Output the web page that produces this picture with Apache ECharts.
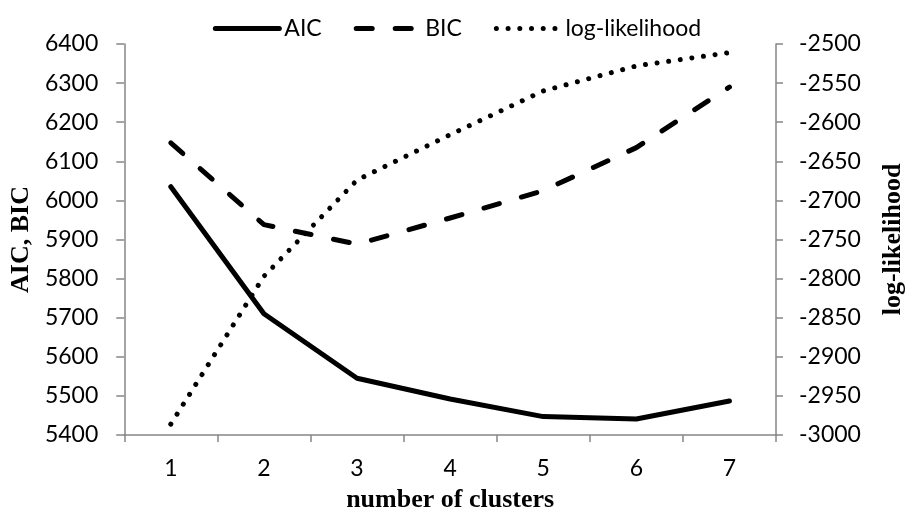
<!DOCTYPE html>
<html>
<head>
<meta charset="utf-8">
<script src="https://cdn.jsdelivr.net/npm/echarts@6/dist/echarts.min.js"></script>
<style>
html,body{margin:0;padding:0;background:#fff;}
#chart{width:914px;height:518px;}
</style>
</head>
<body>
<div id="chart"></div>
<script>
var categories = ['1', '2', '3', '4', '5', '6', '7'];
var aicValues = [6035, 5710, 5545, 5492, 5447, 5441, 5487];
var bicValues = [6147, 5938, 5888, 5955, 6025, 6135, 6290];
var logLikValues = [-2986, -2797, -2674, -2616, -2560, -2528, -2511];
var leftTicks = {min: 5400, max: 6400, interval: 100};
var rightTicks = {min: -3000, max: -2500, interval: 50};

var axisGray = '#868686';
var labelFont = 'Lato';
var titleFont = '"Liberation Serif", "Times New Roman", serif';
var plainNumber = function (v) { return String(v); };

var chart = echarts.init(document.getElementById('chart'), null, {renderer: 'canvas'});
chart.setOption({
  animation: false,
  backgroundColor: '#ffffff',
  textStyle: {fontFamily: labelFont, color: '#000'},
  legend: {
    top: 12,
    left: 'center',
    itemWidth: 64,
    itemHeight: 14,
    itemGap: 32,
    itemStyle: {opacity: 0},
    lineStyle: {width: 5, cap: 'round'},
    textStyle: {fontFamily: labelFont, fontSize: 23, color: '#000'},
    data: ['AIC', 'BIC', 'log-likelihood']
  },
  grid: {left: 124, right: 125, top: 44, bottom: 74, containLabel: false},
  xAxis: {
    type: 'category',
    data: categories,
    boundaryGap: true,
    name: 'number of clusters',
    nameLocation: 'middle',
    nameGap: 52,
    nameTextStyle: {fontFamily: titleFont, fontWeight: 'bold', fontSize: 26, color: '#000'},
    axisLine: {show: true, lineStyle: {color: axisGray, width: 1.5}},
    axisTick: {show: true, alignWithLabel: false, length: 7, lineStyle: {color: axisGray, width: 1.5}},
    axisLabel: {fontFamily: labelFont, fontSize: 23, color: '#000', margin: 22},
    splitLine: {show: false}
  },
  yAxis: [
    {
      type: 'value',
      position: 'left',
      min: leftTicks.min,
      max: leftTicks.max,
      interval: leftTicks.interval,
      name: 'AIC, BIC',
      nameLocation: 'middle',
      nameRotate: 90,
      nameGap: 88,
      nameTextStyle: {fontFamily: titleFont, fontWeight: 'bold', fontSize: 26, color: '#000'},
      axisLine: {show: true, lineStyle: {color: axisGray, width: 1.5}},
      axisTick: {show: true, inside: false, length: 8, lineStyle: {color: axisGray, width: 1.5}},
      axisLabel: {fontFamily: labelFont, fontSize: 23, color: '#000', margin: 26, formatter: plainNumber},
      splitLine: {show: false}
    },
    {
      type: 'value',
      position: 'right',
      min: rightTicks.min,
      max: rightTicks.max,
      interval: rightTicks.interval,
      name: 'log-likelihood',
      nameLocation: 'middle',
      nameRotate: 90,
      nameGap: 104,
      nameTextStyle: {fontFamily: titleFont, fontWeight: 'bold', fontSize: 26, color: '#000'},
      axisLine: {show: true, lineStyle: {color: axisGray, width: 1.5}},
      axisTick: {show: true, inside: false, length: 7, lineStyle: {color: axisGray, width: 1.5}},
      axisLabel: {fontFamily: labelFont, fontSize: 23, color: '#000', margin: 23, formatter: plainNumber},
      splitLine: {show: false}
    }
  ],
  series: [
    {
      name: 'AIC',
      type: 'line',
      yAxisIndex: 0,
      data: aicValues,
      symbol: 'none',
      lineStyle: {color: '#000', width: 5, type: 'solid', cap: 'round', join: 'round'},
      itemStyle: {color: '#000'}
    },
    {
      name: 'BIC',
      type: 'line',
      yAxisIndex: 0,
      data: bicValues,
      symbol: 'none',
      lineStyle: {color: '#000', width: 5, type: [16, 23], cap: 'round', join: 'round'},
      itemStyle: {color: '#000'}
    },
    {
      name: 'log-likelihood',
      type: 'line',
      yAxisIndex: 1,
      data: logLikValues,
      symbol: 'none',
      lineStyle: {color: '#000', width: 5, type: [0.01, 11.7], cap: 'round', join: 'round'},
      itemStyle: {color: '#000'}
    }
  ]
});
</script>
</body>
</html>
